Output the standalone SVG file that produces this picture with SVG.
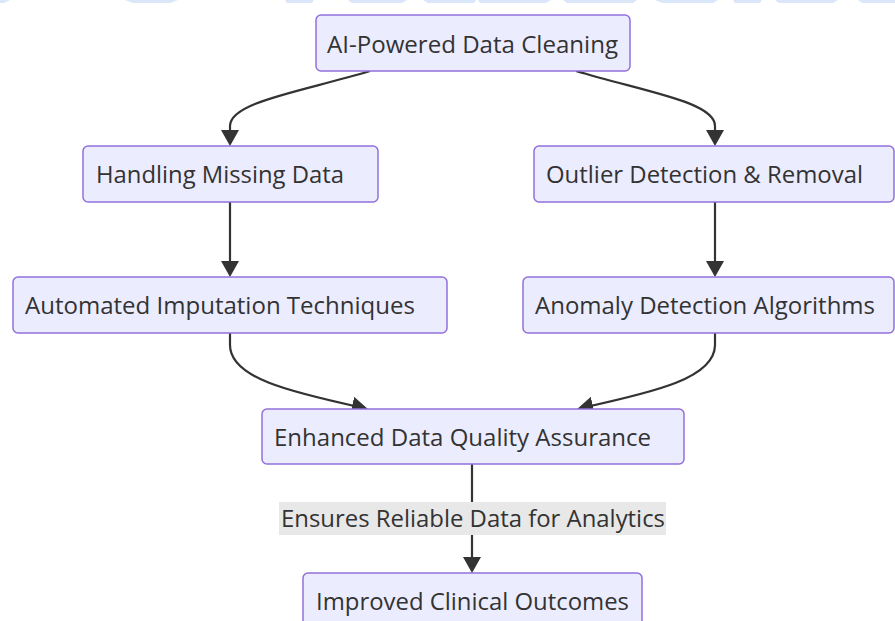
<svg xmlns="http://www.w3.org/2000/svg" width="895" height="621" viewBox="0 0 895 621">
<defs>
<style>
.node rect{fill:#ECECFF;stroke:#9370DB;stroke-width:1.5}
.node text,.lbl text{font-family:"Open Sans","DejaVu Sans",sans-serif;font-size:23px;fill:#333}
.edge{fill:none;stroke:#333;stroke-width:2.2}
.band{fill:#d9e7f8}
</style>
<marker id="arr" markerUnits="userSpaceOnUse" viewBox="0 0 16 18" refX="10" refY="9" markerWidth="16" markerHeight="18" orient="auto">
<path d="M0,0 L16,9 L0,18 z" fill="#333"/>
</marker>
</defs>
<rect width="895" height="621" fill="#fff"/>
<g id="band">
<polygon class="band" points="0,0 10,0 4,3 0,3"/>
<polygon class="band" points="125,0 178,0 170,3 133,3"/>
<polygon class="band" points="285,0 314,0 312,3 287,3"/>
<polygon class="band" points="348,0 407,0 402,3 352,3"/>
<polygon class="band" points="423,0 476,0 474,3 428,3"/>
<polygon class="band" points="478,0 551,0 546,3 480,3"/>
<polygon class="band" points="563,0 637,0 633,3 567,3"/>
<polygon class="band" points="655,0 718,0 713,3 662,3"/>
<polygon class="band" points="733,0 762,0 760,3 735,3"/>
<polygon class="band" points="775,0 838,0 833,3 779,3"/>
<polygon class="band" points="858,0 895,0 895,3 862,3"/>
</g>
<g id="edges">
<path class="edge" d="M370,71 C300,92 230,102 230,126 L230,140" marker-end="url(#arr)"/>
<path class="edge" d="M576,71 C646,92 715,102 715,126 L715,140" marker-end="url(#arr)"/>
<path class="edge" d="M230,202 L230,271" marker-end="url(#arr)"/>
<path class="edge" d="M715,202 L715,271" marker-end="url(#arr)"/>
<path class="edge" d="M230,333 L230,345 C230,378 290,392 362,407.7" marker-end="url(#arr)"/>
<path class="edge" d="M715,333 L715,345 C715,378 655,392 583,407.7" marker-end="url(#arr)"/>
<path class="edge" d="M472,464 L472,567" marker-end="url(#arr)"/>
</g>
<g id="n1" class="node"><rect x="316" y="15" width="314" height="56" rx="5"/><text x="327" y="53" textLength="291" lengthAdjust="spacingAndGlyphs">AI-Powered Data Cleaning</text></g>
<g id="n2" class="node"><rect x="83" y="146" width="295" height="56" rx="5"/><text x="96" y="183" textLength="248" lengthAdjust="spacingAndGlyphs">Handling Missing Data</text></g>
<g id="n3" class="node"><rect x="534" y="146" width="360" height="56" rx="5"/><text x="546" y="183" textLength="317" lengthAdjust="spacingAndGlyphs">Outlier Detection &amp; Removal</text></g>
<g id="n4" class="node"><rect x="13" y="277" width="434" height="56" rx="5"/><text x="25" y="314" textLength="390" lengthAdjust="spacingAndGlyphs">Automated Imputation Techniques</text></g>
<g id="n5" class="node"><rect x="523" y="277" width="371" height="56" rx="5"/><text x="535" y="314" textLength="340" lengthAdjust="spacingAndGlyphs">Anomaly Detection Algorithms</text></g>
<g id="n6" class="node"><rect x="262" y="409" width="422" height="55" rx="5"/><text x="274" y="446" textLength="377" lengthAdjust="spacingAndGlyphs">Enhanced Data Quality Assurance</text></g>
<g id="lbl" class="lbl"><rect x="279" y="502" width="387" height="33" fill="#e8e8e8"/><text x="281" y="527" textLength="384" lengthAdjust="spacingAndGlyphs">Ensures Reliable Data for Analytics</text></g>
<g id="n7" class="node"><rect x="303" y="573" width="339" height="56" rx="5"/><text x="316" y="610" textLength="313" lengthAdjust="spacingAndGlyphs">Improved Clinical Outcomes</text></g>
</svg>
